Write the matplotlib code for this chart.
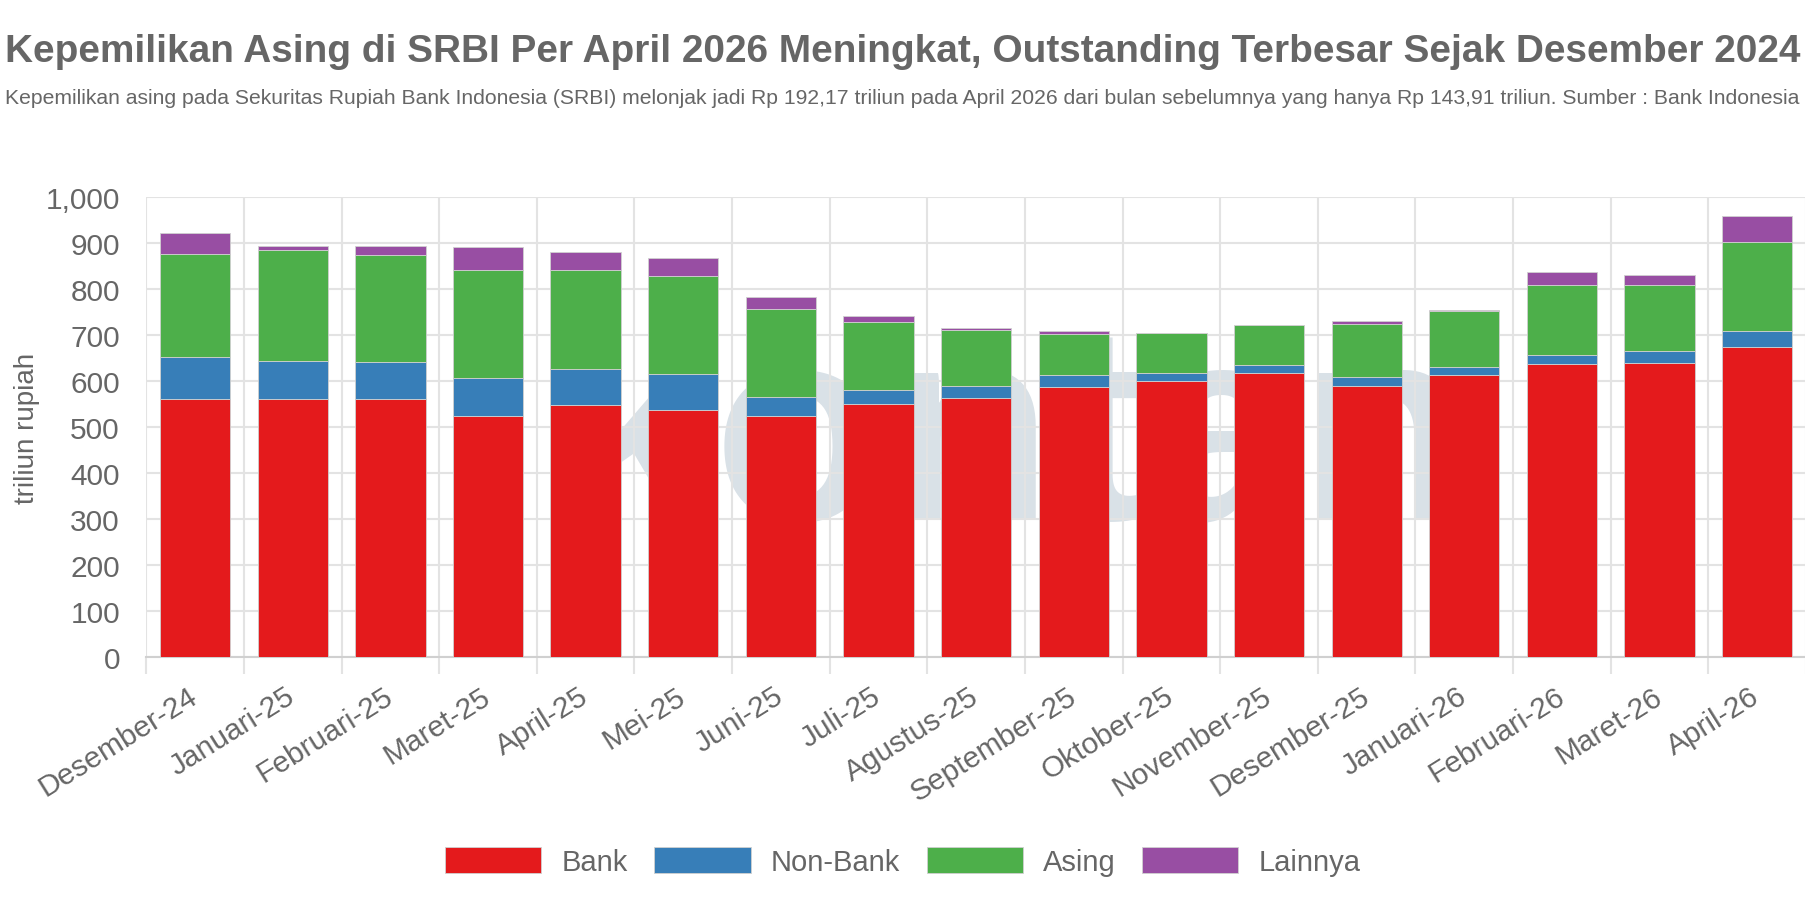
import matplotlib
matplotlib.use('Agg')
import matplotlib.pyplot as plt
from matplotlib.ticker import FuncFormatter
import numpy as np

# data (triliun rupiah)
months = ['Desember-24', 'Januari-25', 'Februari-25', 'Maret-25', 'April-25', 'Mei-25',
          'Juni-25', 'Juli-25', 'Agustus-25', 'September-25', 'Oktober-25', 'November-25',
          'Desember-25', 'Januari-26', 'Februari-26', 'Maret-26', 'April-26']
bank = [560, 561, 560, 525, 548, 537, 523, 549, 563, 586, 601, 617, 588, 614, 636, 638, 673]
non_bank = [91, 83, 81, 82, 79, 78, 43, 32, 26, 26, 16, 17, 20, 16, 20, 27, 36]
asing = [224, 240, 232, 235, 213, 212, 190, 147, 122, 90, 87, 88, 115, 123, 152, 143, 192]
lainnya = [47, 9, 20, 48, 41, 40, 26, 12, 4, 6, 0, 0.5, 7, 1, 29, 22, 57]

series = ['Bank', 'Non-Bank', 'Asing', 'Lainnya']
colors = ['#e41a1c', '#377eb8', '#4daf4a', '#984ea3']

title = 'Kepemilikan Asing di SRBI Per April 2026 Meningkat, Outstanding Terbesar Sejak Desember 2024'
subtitle = ('Kepemilikan asing pada Sekuritas Rupiah Bank Indonesia (SRBI) melonjak jadi Rp 192,17 triliun '
            'pada April 2026 dari bulan sebelumnya yang hanya Rp 143,91 triliun. Sumber : Bank Indonesia')

grey = '#666666'
font = ['Liberation Sans', 'DejaVu Sans']

fig = plt.figure(figsize=(18.06, 9.03), dpi=100)
ax = fig.add_axes([0.081, 0.271, 0.919, 0.510])

x = np.arange(len(months))
bottom = np.zeros(len(months))
for vals, col, name in zip([bank, non_bank, asing, lainnya], colors, series):
    vals = np.array(vals, dtype=float)
    ax.bar(x, vals, 0.72, bottom=bottom, color=col, edgecolor='#d0d0d0',
           linewidth=0.6, label=name, zorder=3)
    bottom += vals

# faint watermark behind the bars (grid drawn over it)
ax.text(8.4, 300, 'kontan', fontsize=200, fontweight='bold', color='#d9e1e7',
        ha='center', va='baseline', zorder=0.1, family=font)

ax.set_xlim(-0.5, len(months) - 0.5)
ax.set_ylim(0, 1000)
ax.set_yticks(range(0, 1001, 100))
ax.yaxis.set_major_formatter(FuncFormatter(lambda v, p: f'{int(v):,}'))
ax.set_xticks(x)
ax.set_xticklabels(months, rotation=32, ha='right', va='center', rotation_mode='anchor')
ax.set_xticks(np.arange(-0.5, len(months), 1), minor=True)

ax.set_axisbelow(True)
ax.grid(axis='y', which='major', color='#e3e3e3', linewidth=1.5)
ax.grid(axis='x', which='minor', color='#e3e3e3', linewidth=1.5)
for s in ['top', 'right', 'left']:
    ax.spines[s].set_visible(False)
ax.spines['bottom'].set_color('#d0d0d0')
ax.spines['bottom'].set_linewidth(1.5)

ax.tick_params(axis='x', which='major', length=0, pad=26)
ax.tick_params(axis='x', which='minor', length=12, width=1.5, color='#e3e3e3')
ax.tick_params(axis='y', length=0, pad=19)
for lab in ax.get_xticklabels() + ax.get_yticklabels():
    lab.set_fontsize(21.5)
    lab.set_color(grey)
    lab.set_family(font)

ax.set_ylabel('triliun rupiah', fontsize=20, color=grey, family=font, labelpad=4)

t1 = fig.text(0.003, 0.942, title, fontsize=31, fontweight='bold', color=grey,
              ha='left', va='center', family=font)
t2 = fig.text(0.003, 0.891, subtitle, fontsize=15.5, color=grey, ha='left', va='center',
              family=font)

fig.legend(loc='center', bbox_to_anchor=(0.5, 0.045), ncol=4, frameon=False,
           prop={'family': font, 'size': 21}, labelcolor=grey,
           handlelength=3.3, handleheight=1.0, handletextpad=0.7, columnspacing=0.9)

# shrink title and subtitle so they span the figure width like the original
fig.canvas.draw()
renderer = fig.canvas.get_renderer()
for t, target in [(t1, 1790), (t2, 1794)]:
    w = t.get_window_extent(renderer).width
    t.set_fontsize(t.get_fontsize() * target / w)

fig.savefig('out.png', dpi=100)
